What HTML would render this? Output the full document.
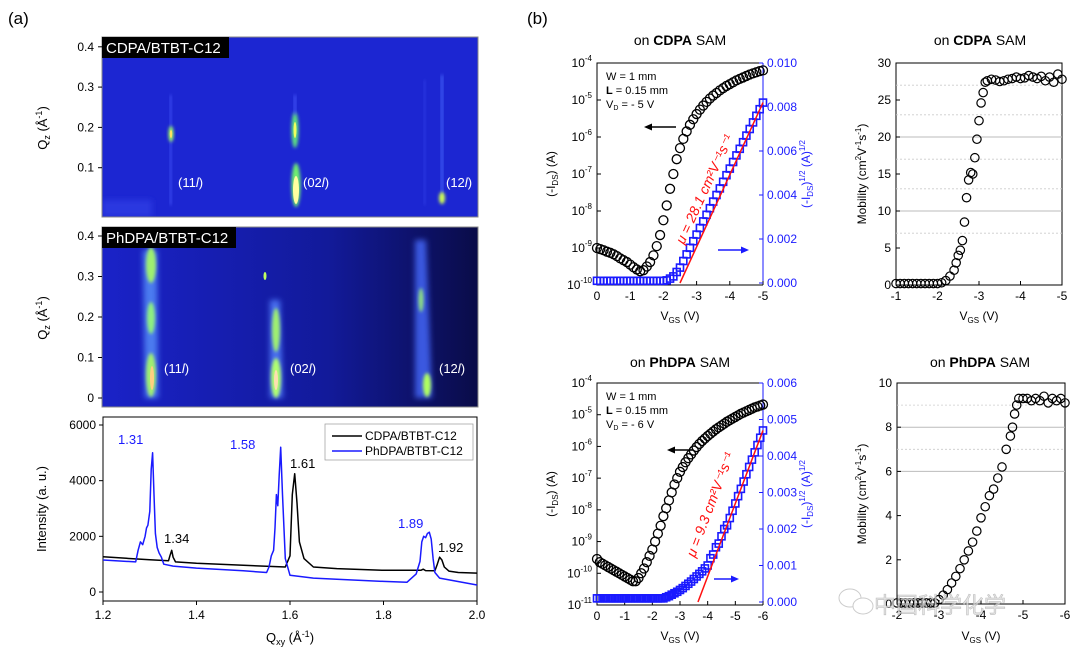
<!DOCTYPE html>
<html><head><meta charset="utf-8"><style>
html,body{margin:0;padding:0;background:#fff;}
svg{display:block;font-family:"Liberation Sans","Noto Sans CJK SC",sans-serif;}
</style></head><body>
<svg id="fig" width="1080" height="654" viewBox="0 0 1080 654" xmlns="http://www.w3.org/2000/svg">
<defs>
<filter id="blur1" x="-50%" y="-50%" width="200%" height="200%"><feGaussianBlur stdDeviation="1.5"/></filter>
<filter id="blur2" x="-50%" y="-50%" width="200%" height="200%"><feGaussianBlur stdDeviation="3"/></filter>
<linearGradient id="bg2" x1="0" x2="1" y1="0" y2="0"><stop offset="0" stop-color="#1a22c8"/><stop offset="0.6" stop-color="#121a9a"/><stop offset="1" stop-color="#0a0c48"/></linearGradient>
<clipPath id="cl1"><rect x="102" y="37" width="376" height="180"/></clipPath>
<clipPath id="cl2"><rect x="102" y="227" width="376" height="180"/></clipPath>
</defs>
<text x="8" y="24" font-size="17">(a)</text>
<text x="527" y="24" font-size="17">(b)</text>

<g clip-path="url(#cl1)">
<rect x="102" y="37" width="376" height="180" fill="#1c26d2"/>
<rect x="102" y="200" width="50" height="17" fill="#2a38e0" filter="url(#blur2)"/>
<rect x="170" y="95" width="1.5" height="110" fill="#4a5cff" filter="url(#blur1)"/>
<ellipse cx="171" cy="134" rx="2.5" ry="8" fill="#9fff60" filter="url(#blur1)"/>
<ellipse cx="171" cy="134" rx="1.2" ry="4" fill="#ffe060"/>
<ellipse cx="295" cy="130" rx="3.5" ry="18" fill="#5fe080" filter="url(#blur1)"/>
<ellipse cx="295" cy="130" rx="1.5" ry="8" fill="#f0ff60"/>
<ellipse cx="296" cy="185" rx="4.5" ry="22" fill="#70f070" filter="url(#blur1)"/>
<ellipse cx="296" cy="190" rx="3" ry="14" fill="#ffffa0"/>
<rect x="294" y="95" width="2" height="20" fill="#4a5cff" filter="url(#blur1)"/>
<rect x="441" y="75" width="2" height="125" fill="#4a6cff" filter="url(#blur1)"/>
<rect x="424" y="80" width="1.5" height="125" fill="#3040e8" filter="url(#blur1)"/>
<ellipse cx="442" cy="198" rx="3" ry="6" fill="#d0ff50" filter="url(#blur1)"/>
</g>
<rect x="102" y="37" width="376" height="180" fill="none" stroke="#888" stroke-width="1"/>
<rect x="102" y="37" width="127" height="21" fill="#000"/>
<text x="106" y="53" font-size="15" fill="#fff">CDPA/BTBT-C12</text>
<g font-size="13" fill="#fff">
<text x="178" y="187">(11<tspan font-style="italic">l</tspan>)</text>
<text x="303" y="187">(02<tspan font-style="italic">l</tspan>)</text>
<text x="446" y="187">(12<tspan font-style="italic">l</tspan>)</text>
</g>
<g clip-path="url(#cl2)">
<rect x="102" y="227" width="376" height="180" fill="url(#bg2)"/>
<polygon points="143,250 157,250 158,398 145,398" fill="#4c7cf0" filter="url(#blur2)"/>
<ellipse cx="151" cy="265" rx="5" ry="18" fill="#9ef070" filter="url(#blur1)"/>
<ellipse cx="151" cy="318" rx="4" ry="16" fill="#8ef080" filter="url(#blur1)"/>
<ellipse cx="151" cy="375" rx="5" ry="22" fill="#a0f070" filter="url(#blur1)"/>
<ellipse cx="152" cy="378" rx="2" ry="12" fill="#ffd080"/>
<polygon points="270,300 280,300 283,398 270,398" fill="#4a70f0" filter="url(#blur2)"/>
<ellipse cx="276" cy="330" rx="4" ry="22" fill="#9ff070" filter="url(#blur1)"/>
<ellipse cx="276" cy="378" rx="5" ry="20" fill="#b0ff70" filter="url(#blur1)"/>
<ellipse cx="276" cy="380" rx="2" ry="10" fill="#ffe0b0"/>
<ellipse cx="265" cy="276" rx="1.5" ry="4" fill="#c0ff60"/>
<polygon points="415,240 426,240 432,398 415,398" fill="#3a58e0" filter="url(#blur2)"/>
<ellipse cx="421" cy="300" rx="2.5" ry="12" fill="#8fe080" filter="url(#blur1)"/>
<ellipse cx="427" cy="385" rx="4" ry="12" fill="#b0ff60" filter="url(#blur1)"/>
</g>
<rect x="102" y="227" width="376" height="180" fill="none" stroke="#888" stroke-width="1"/>
<rect x="102" y="227" width="134" height="21" fill="#000"/>
<text x="106" y="243" font-size="15" fill="#fff">PhDPA/BTBT-C12</text>
<g font-size="13" fill="#fff">
<text x="164" y="373">(11<tspan font-style="italic">l</tspan>)</text>
<text x="290" y="373">(02<tspan font-style="italic">l</tspan>)</text>
<text x="439" y="373">(12<tspan font-style="italic">l</tspan>)</text>
</g>
<g font-size="13">
<text transform="translate(47,128) rotate(-90)" text-anchor="middle">Q<tspan font-size="9" dy="3">z</tspan><tspan dy="-3"> (Å</tspan><tspan font-size="9" dy="-5">-1</tspan><tspan dy="5">)</tspan></text>
<text transform="translate(47,318) rotate(-90)" text-anchor="middle">Q<tspan font-size="9" dy="3">z</tspan><tspan dy="-3"> (Å</tspan><tspan font-size="9" dy="-5">-1</tspan><tspan dy="5">)</tspan></text>
</g>

<rect x="103" y="417" width="374" height="184" fill="none" stroke="#000" stroke-width="1"/>
<text transform="translate(46,509) rotate(-90)" text-anchor="middle" font-size="13">Intensity (a. u.)</text>
<text x="290" y="642" text-anchor="middle" font-size="13">Q<tspan font-size="9" dy="3">xy</tspan><tspan dy="-3"> (Å</tspan><tspan font-size="9" dy="-5">-1</tspan><tspan dy="5">)</tspan></text>
<g font-size="12">
<rect x="325" y="424" width="148" height="36" fill="#fff" stroke="#999" stroke-width="0.7"/>
<line x1="332" y1="436" x2="362" y2="436" stroke="#000" stroke-width="1.5"/>
<text x="365" y="440">CDPA/BTBT-C12</text>
<line x1="332" y1="451" x2="362" y2="451" stroke="#1a1aff" stroke-width="1.5"/>
<text x="365" y="455">PhDPA/BTBT-C12</text>
</g>
<g font-size="13">
<text x="118" y="444" fill="#1a1aff">1.31</text>
<text x="230" y="449" fill="#1a1aff">1.58</text>
<text x="290" y="468" fill="#000">1.61</text>
<text x="164" y="543" fill="#000">1.34</text>
<text x="398" y="528" fill="#1a1aff">1.89</text>
<text x="438" y="552" fill="#000">1.92</text>
</g>

<g>
<path d="M763,63 L597,63 L597,285 L763,285" fill="none" stroke="#000"/>
<line x1="763" y1="63" x2="763" y2="285" stroke="#1a1aff"/>
</g>
<g>
<path d="M763,383 L597,383 L597,605 L763,605" fill="none" stroke="#000"/>
<line x1="763" y1="383" x2="763" y2="605" stroke="#1a1aff"/>
</g>
<g font-size="14" text-anchor="middle">
<text x="680" y="45">on <tspan font-weight="bold">CDPA</tspan> SAM</text>
<text x="980" y="45">on <tspan font-weight="bold">CDPA</tspan> SAM</text>
<text x="680" y="367">on <tspan font-weight="bold">PhDPA</tspan> SAM</text>
<text x="980" y="367">on <tspan font-weight="bold">PhDPA</tspan> SAM</text>
</g>
<g font-size="11">
<text x="606" y="80">W = 1 mm</text>
<text x="606" y="94"><tspan font-weight="bold">L</tspan> = 0.15 mm</text>
<text x="606" y="108">V<tspan font-size="7" dy="2">D</tspan><tspan dy="-2"> = - 5 V</tspan></text>
<text x="606" y="400">W = 1 mm</text>
<text x="606" y="414"><tspan font-weight="bold">L</tspan> = 0.15 mm</text>
<text x="606" y="428">V<tspan font-size="7" dy="2">D</tspan><tspan dy="-2"> = - 6 V</tspan></text>
</g>
<g font-size="12">
<text transform="translate(555,174) rotate(-90)" text-anchor="middle">(-I<tspan font-size="8" dy="3">DS</tspan><tspan dy="-3">) (A)</tspan></text>
<text transform="translate(555,494) rotate(-90)" text-anchor="middle">(-I<tspan font-size="8" dy="3">DS</tspan><tspan dy="-3">) (A)</tspan></text>
<text transform="translate(810,174) rotate(-90)" text-anchor="middle" fill="#1a1aff">(-I<tspan font-size="8" dy="3">DS</tspan><tspan dy="-3">)</tspan><tspan font-size="8" dy="-5">1/2</tspan><tspan dy="5"> (A)</tspan><tspan font-size="8" dy="-5">1/2</tspan></text>
<text transform="translate(810,494) rotate(-90)" text-anchor="middle" fill="#1a1aff">(-I<tspan font-size="8" dy="3">DS</tspan><tspan dy="-3">)</tspan><tspan font-size="8" dy="-5">1/2</tspan><tspan dy="5"> (A)</tspan><tspan font-size="8" dy="-5">1/2</tspan></text>
<text x="680" y="320" text-anchor="middle">V<tspan font-size="8" dy="3">GS</tspan><tspan dy="-3"> (V)</tspan></text>
<text x="680" y="640" text-anchor="middle">V<tspan font-size="8" dy="3">GS</tspan><tspan dy="-3"> (V)</tspan></text>
<text x="979" y="320" text-anchor="middle">V<tspan font-size="8" dy="3">GS</tspan><tspan dy="-3"> (V)</tspan></text>
<text x="981" y="640" text-anchor="middle">V<tspan font-size="8" dy="3">GS</tspan><tspan dy="-3"> (V)</tspan></text>
<text transform="translate(866,174) rotate(-90)" text-anchor="middle">Mobility (cm<tspan font-size="8" dy="-5">2</tspan><tspan dy="5">V</tspan><tspan font-size="8" dy="-5">-1</tspan><tspan dy="5">s</tspan><tspan font-size="8" dy="-5">-1</tspan><tspan dy="5">)</tspan></text>
<text transform="translate(866,494) rotate(-90)" text-anchor="middle">Mobility (cm<tspan font-size="8" dy="-5">2</tspan><tspan dy="5">V</tspan><tspan font-size="8" dy="-5">-1</tspan><tspan dy="5">s</tspan><tspan font-size="8" dy="-5">-1</tspan><tspan dy="5">)</tspan></text>
</g>
<g>
<line x1="676" y1="127" x2="648" y2="127" stroke="#000" stroke-width="1.5"/><polygon points="644,127 652,123.5 652,130.5" fill="#000"/>
<line x1="718" y1="250" x2="745" y2="250" stroke="#1a1aff" stroke-width="1.5"/><polygon points="749,250 741,246.5 741,253.5" fill="#1a1aff"/>
<polygon points="667,450 675,446.5 675,453.5" fill="#000"/><line x1="692" y1="450" x2="672" y2="450" stroke="#000" stroke-width="1.5"/>
<line x1="714" y1="579" x2="735" y2="579" stroke="#1a1aff" stroke-width="1.5"/><polygon points="739,579 731,575.5 731,582.5" fill="#1a1aff"/>
</g>
<g>
<rect x="896" y="63" width="166" height="222" fill="none" stroke="#000"/>
<rect x="897" y="383" width="168" height="221" fill="none" stroke="#000"/>
</g>
<g id="marks"></g>
<g opacity="0.75">
<ellipse cx="850" cy="598" rx="11" ry="9" fill="#fff" stroke="#bbb"/>
<ellipse cx="863" cy="606" rx="10" ry="8" fill="#fff" stroke="#bbb"/>
<text x="874" y="613" font-size="22" fill="#ddd" stroke="#aaa" stroke-width="0.6">中国科学化学</text>
</g>
</svg>
<script>
const xrdQCdpa=[1.2,1.25,1.3,1.34,1.343,1.347,1.35,1.355,1.4,1.5,1.59,1.6,1.605,1.61,1.615,1.62,1.63,1.65,1.7,1.8,1.88,1.885,1.89,1.91,1.915,1.92,1.925,1.93,1.94,1.96,2.0];
const xrdICdpa=[1270,1210,1160,1120,1300,1500,1250,1080,1030,960,900,1300,3500,4250,3200,1800,1200,900,840,780,780,820,770,760,1000,1250,1150,900,750,700,680];
const xrdQPh=[1.2,1.27,1.275,1.28,1.285,1.29,1.293,1.296,1.3,1.303,1.306,1.309,1.312,1.316,1.32,1.325,1.33,1.35,1.4,1.5,1.55,1.555,1.56,1.565,1.568,1.571,1.574,1.577,1.58,1.584,1.59,1.6,1.65,1.7,1.8,1.85,1.86,1.87,1.878,1.882,1.886,1.89,1.894,1.898,1.902,1.906,1.91,1.92,2.0];
const xrdIPh=[1150,1080,1500,1800,1700,2000,2300,2400,2900,4400,5000,3500,2100,1600,1400,1250,1000,930,860,760,700,900,1300,1500,2300,3500,3100,4200,5200,3500,1200,600,500,460,380,350,500,650,1100,1800,2000,1950,2100,2150,1900,1200,700,500,250];
const xrdXTicks=[1.2,1.4,1.6,1.8,2.0];
const xrdYTicks=[0,2000,4000,6000];
const qzTicksTop=[0.1,0.2,0.3,0.4];
const qzTicksBottom=[0,0.1,0.2,0.3,0.4];
const vgsCdpa=[0,-0.1,-0.2,-0.3,-0.4,-0.5,-0.6,-0.7,-0.8,-0.9,-1,-1.1,-1.2,-1.3,-1.4,-1.5,-1.6,-1.7,-1.8,-1.9,-2,-2.1,-2.2,-2.3,-2.4,-2.5,-2.6,-2.7,-2.8,-2.9,-3,-3.1,-3.2,-3.3,-3.4,-3.5,-3.6,-3.7,-3.8,-3.9,-4,-4.1,-4.2,-4.3,-4.4,-4.5,-4.6,-4.7,-4.8,-4.9,-5];
const logIdsCdpa=[-9.00,-9.03,-9.06,-9.10,-9.13,-9.17,-9.22,-9.28,-9.33,-9.38,-9.45,-9.52,-9.58,-9.63,-9.6,-9.5,-9.38,-9.2,-8.95,-8.65,-8.25,-7.85,-7.4,-7.0,-6.6,-6.3,-6.05,-5.85,-5.67,-5.52,-5.38,-5.26,-5.15,-5.05,-4.96,-4.88,-4.81,-4.74,-4.68,-4.62,-4.57,-4.52,-4.47,-4.43,-4.39,-4.35,-4.31,-4.28,-4.25,-4.22,-4.2];
const sqrtIdsCdpa=[0.0001,0.0001,0.0001,0.0001,0.0001,0.0001,0.0001,0.0001,0.0001,0.0001,0.0001,0.0001,0.0001,0.0001,0.0001,0.0001,0.0001,0.0001,0.0001,0.0001,0.0001,0.00012,0.0002,0.0003,0.0005,0.0007,0.0010,0.0013,0.0016,0.0019,0.0022,0.0025,0.0028,0.0031,0.0034,0.0037,0.0040,0.0043,0.0046,0.0049,0.0052,0.0055,0.0058,0.0061,0.0064,0.0067,0.0070,0.0073,0.0076,0.0079,0.0082];
const fitVCdpa=[-2.5,-5];
const fitSCdpa=[0,0.0082];
const vgsPh=[0,-0.1,-0.2,-0.3,-0.4,-0.5,-0.6,-0.7,-0.8,-0.9,-1,-1.1,-1.2,-1.3,-1.4,-1.5,-1.6,-1.7,-1.8,-1.9,-2,-2.1,-2.2,-2.3,-2.4,-2.5,-2.6,-2.7,-2.8,-2.9,-3,-3.1,-3.2,-3.3,-3.4,-3.5,-3.6,-3.7,-3.8,-3.9,-4,-4.1,-4.2,-4.3,-4.4,-4.5,-4.6,-4.7,-4.8,-4.9,-5,-5.1,-5.2,-5.3,-5.4,-5.5,-5.6,-5.7,-5.8,-5.9,-6];
const logIdsPh=[-9.55,-9.65,-9.7,-9.75,-9.8,-9.85,-9.9,-9.95,-10.0,-10.05,-10.1,-10.15,-10.2,-10.25,-10.25,-10.15,-10.0,-9.85,-9.65,-9.45,-9.25,-9.0,-8.75,-8.5,-8.2,-7.95,-7.7,-7.45,-7.2,-7.0,-6.8,-6.65,-6.5,-6.37,-6.25,-6.13,-6.02,-5.92,-5.83,-5.75,-5.67,-5.6,-5.53,-5.46,-5.4,-5.34,-5.28,-5.22,-5.17,-5.12,-5.07,-5.02,-4.97,-4.93,-4.89,-4.85,-4.81,-4.77,-4.74,-4.71,-4.68];
const sqrtIdsPh=[0.0001,0.0001,0.0001,0.0001,0.0001,0.0001,0.0001,0.0001,0.0001,0.0001,0.0001,0.0001,0.0001,0.0001,0.0001,0.0001,0.0001,0.0001,0.0001,0.0001,0.0001,0.0001,0.0001,0.0001,0.0001,0.00013,0.00016,0.0002,0.00024,0.00028,0.00033,0.00038,0.00044,0.0005,0.00056,0.00063,0.0007,0.00077,0.00084,0.00092,0.001,0.0012,0.0013,0.0015,0.0016,0.0018,0.002,0.0021,0.0023,0.0025,0.0027,0.0029,0.0031,0.0033,0.0035,0.0037,0.0039,0.0041,0.0043,0.0045,0.0047];
const fitVPh=[-3.65,-6];
const fitSPh=[0,0.0047];
const mobVCdpa=[-1,-1.1,-1.2,-1.3,-1.4,-1.5,-1.6,-1.7,-1.8,-1.9,-2,-2.1,-2.2,-2.3,-2.4,-2.45,-2.5,-2.55,-2.6,-2.65,-2.7,-2.75,-2.8,-2.85,-2.9,-2.95,-3,-3.05,-3.1,-3.15,-3.2,-3.3,-3.4,-3.5,-3.6,-3.7,-3.8,-3.9,-4,-4.1,-4.2,-4.3,-4.4,-4.5,-4.6,-4.7,-4.8,-4.9,-5];
const mobCdpa=[0.2,0.2,0.2,0.2,0.2,0.2,0.2,0.2,0.2,0.2,0.2,0.3,0.6,1.2,2,3,4,4.7,6,8.5,11.8,14.2,15.2,15,17.2,19.7,22.2,24.6,26,27.4,27.6,27.8,27.7,27.5,27.6,27.8,27.9,28.1,27.9,28.0,28.3,28.1,27.9,28.2,27.6,28.1,27.4,28.5,27.8];
const mobVPh=[-2,-2.1,-2.2,-2.3,-2.4,-2.5,-2.6,-2.7,-2.8,-2.9,-3,-3.1,-3.2,-3.3,-3.4,-3.5,-3.6,-3.7,-3.8,-3.9,-4,-4.1,-4.2,-4.3,-4.4,-4.5,-4.6,-4.7,-4.75,-4.8,-4.85,-4.9,-5,-5.1,-5.2,-5.3,-5.4,-5.5,-5.6,-5.7,-5.8,-5.9,-6];
const mobPh=[0.05,0.05,0.05,0.05,0.05,0.05,0.05,0.05,0.05,0.05,0.2,0.4,0.65,0.95,1.25,1.6,2.0,2.4,2.8,3.3,3.9,4.4,4.9,5.2,5.7,6.2,7.0,7.6,8.0,8.6,9.0,9.3,9.3,9.3,9.2,9.3,9.2,9.4,9.1,9.3,9.2,9.3,9.1];
const vTicksCdpa=[0,-1,-2,-3,-4,-5];
const vTicksPh=[0,-1,-2,-3,-4,-5,-6];
const logTicksCdpa=[-4,-5,-6,-7,-8,-9,-10];
const logTicksPh=[-4,-5,-6,-7,-8,-9,-10,-11];
const sqrtTicksCdpa=[0,0.002,0.004,0.006,0.008,0.010];
const sqrtTicksPh=[0,0.001,0.002,0.003,0.004,0.005,0.006];
const mobVTicksCdpa=[-1,-2,-3,-4,-5];
const mobTicksCdpa=[0,5,10,15,20,25,30];
const mobVTicksPh=[-2,-3,-4,-5,-6];
const mobTicksPh=[0,2,4,6,8,10];

const xXrd=q=>103+(q-1.2)/0.8*374;
const yXrd=i=>592-i/6000*167;
const yQzTop=q=>208-q/0.1*40.3;
const yQzBot=q=>398-q/0.1*40.5;
const xTL=v=>597+(-v)/5*166;
const yTLlog=l=>63+(-4-l)*37;
const yTLr=s=>283-s/0.010*220;
const xBL=v=>597+(-v)/6*166;
const yBLlog=l=>383+(-4-l)*(222/7);
const yBLr=s=>602-s/0.006*219;
const xMT=v=>896+(-v-1)/4*166;
const yMT=m=>285-m/30*222;
const xMB=v=>897+(-v-2)/4*168;
const yMB=m=>604-m/10*221;

const NS='http://www.w3.org/2000/svg';
const root=document.getElementById('marks');
function mk(tag,attrs,parent){const e=document.createElementNS(NS,tag);for(const k in attrs)e.setAttribute(k,attrs[k]);(parent||root).appendChild(e);return e;}
function fmt(v,d){return v.toFixed(d);}

function xrdLine(qs,is,color,name){
  let d='';for(let i=0;i<qs.length;i++)d+=(i?'L':'M')+xXrd(qs[i]).toFixed(1)+','+yXrd(is[i]).toFixed(1);
  const p=mk('path',{d:d,fill:'none',stroke:color,'stroke-width':1.5,'stroke-linejoin':'round'});
  
  
}
xrdLine(xrdQCdpa,xrdICdpa,'#000','xrd-line-cdpa');
xrdLine(xrdQPh,xrdIPh,'#1a1aff','xrd-line-phdpa');
xrdXTicks.forEach(q=>{
  const x=xXrd(q);
  mk('line',{x1:x,y1:601,x2:x,y2:605,stroke:'#000'});
  const t=mk('text',{x:x,y:619,'font-size':12,'text-anchor':'middle'});t.textContent=fmt(q,1);
  
  
});
xrdYTicks.forEach(v=>{
  const y=yXrd(v);
  mk('line',{x1:99,y1:y,x2:103,y2:y,stroke:'#000'});
  const t=mk('text',{x:96,y:y+4,'font-size':12,'text-anchor':'end'});t.textContent=v;
  
  
});
qzTicksTop.forEach(q=>{
  const y=yQzTop(q);
  mk('line',{x1:98,y1:y,x2:102,y2:y,stroke:'#000'});
  const t=mk('text',{x:94,y:y+4,'font-size':12,'text-anchor':'end'});t.textContent=fmt(q,1);
  
  
});
qzTicksBottom.forEach(q=>{
  const y=yQzBot(q);
  mk('line',{x1:98,y1:y,x2:102,y2:y,stroke:'#000'});
  const t=mk('text',{x:94,y:y+4,'font-size':12,'text-anchor':'end'});t.textContent=q===0?'0':fmt(q,1);
  
  
});

function transfer(xf,ylog,yr,vs,logs,sq,fv,fs,vt,lt,st,yBot,muText,muPos){
  vt.forEach(v=>{
    const x=xf(v);
    mk('line',{x1:x,y1:yBot,x2:x,y2:yBot-4,stroke:'#000'});
    const t=mk('text',{x:x,y:yBot+15,'font-size':12,'text-anchor':'middle'});t.textContent=v===0?'0':String(v);
    
    
  });
  lt.forEach(l=>{
    const y=ylog(l);
    mk('line',{x1:xf(0),y1:y,x2:xf(0)+4,y2:y,stroke:'#000'});
    const t=mk('text',{x:592,y:y+4,'font-size':12,'text-anchor':'end'});
    const a=document.createElementNS(NS,'tspan');a.textContent='10';t.appendChild(a);
    const b=document.createElementNS(NS,'tspan');b.setAttribute('font-size','8');b.setAttribute('dy','-6');b.textContent=String(l);t.appendChild(b);
    
    
  });
  st.forEach(s=>{
    const y=yr(s);
    mk('line',{x1:763,y1:y,x2:759,y2:y,stroke:'#1a1aff'});
    const t=mk('text',{x:767,y:y+4,'font-size':12,fill:'#1a1aff'});t.textContent=s.toFixed(3);
    
    
  });
  for(let i=0;i<vs.length;i++){
    const r=mk('rect',{x:xf(vs[i])-3.5,y:yr(sq[i])-3.5,width:7,height:7,fill:'none',stroke:'#1a1aff','stroke-width':1.6});
    
    
  }
  for(let i=0;i<vs.length;i++){
    const c=mk('circle',{cx:xf(vs[i]),cy:ylog(logs[i]),r:4.5,fill:'none',stroke:'#000','stroke-width':1.3});
    
    
  }
  const f=mk('line',{x1:xf(fv[0]),y1:yr(fs[0]),x2:xf(fv[1]),y2:yr(fs[1]),stroke:'#ff1010','stroke-width':1.5});
  
  
  const ang=Math.atan2(yr(fs[1])-yr(fs[0]),xf(fv[1])-xf(fv[0]))*180/Math.PI;
  const t=mk('text',{transform:'translate('+muPos[0]+','+muPos[1]+') rotate('+ang.toFixed(1)+')','font-size':14,fill:'#ff1010','font-style':'italic'});
  t.textContent=muText;
  
  
}
transfer(xTL,yTLlog,yTLr,vgsCdpa,logIdsCdpa,sqrtIdsCdpa,fitVCdpa,fitSCdpa,vTicksCdpa,logTicksCdpa,sqrtTicksCdpa,285,'μ = 28.1 cm²V⁻¹s⁻¹',[684,245]);
transfer(xBL,yBLlog,yBLr,vgsPh,logIdsPh,sqrtIdsPh,fitVPh,fitSPh,vTicksPh,logTicksPh,sqrtTicksPh,605,'μ = 9.3 cm²V⁻¹s⁻¹',[695,558]);

function mobility(xf,yf,vs,ms,vt,mt,yBot,x0,x1,solid,dotted){
  dotted.forEach(m=>{const l=mk('line',{x1:x0,y1:yf(m),x2:x1,y2:yf(m),stroke:'#ccc','stroke-dasharray':'2,2','stroke-width':0.8});
    });
  solid.forEach(m=>{const l=mk('line',{x1:x0,y1:yf(m),x2:x1,y2:yf(m),stroke:'#bbb','stroke-width':1});
    });
  vt.forEach(v=>{
    const x=xf(v);
    mk('line',{x1:x,y1:yBot,x2:x,y2:yBot-4,stroke:'#000'});
    const t=mk('text',{x:x,y:yBot+15,'font-size':12,'text-anchor':'middle'});t.textContent=String(v);
    
    
  });
  mt.forEach(m=>{
    const y=yf(m);
    mk('line',{x1:x0,y1:y,x2:x0+4,y2:y,stroke:'#000'});
    const t=mk('text',{x:x0-5,y:y+4,'font-size':12,'text-anchor':'end'});t.textContent=String(m);
    
    
  });
  for(let i=0;i<vs.length;i++){
    const c=mk('circle',{cx:xf(vs[i]),cy:yf(ms[i]),r:4.2,fill:'none',stroke:'#000','stroke-width':1.2});
    
    
  }
}
mobility(xMT,yMT,mobVCdpa,mobCdpa,mobVTicksCdpa,mobTicksCdpa,285,896,1062,[10,20],[7,13,17,23,27]);
mobility(xMB,yMB,mobVPh,mobPh,mobVTicksPh,mobTicksPh,604,897,1065,[6,8],[7,9]);
</script>
</body></html>
